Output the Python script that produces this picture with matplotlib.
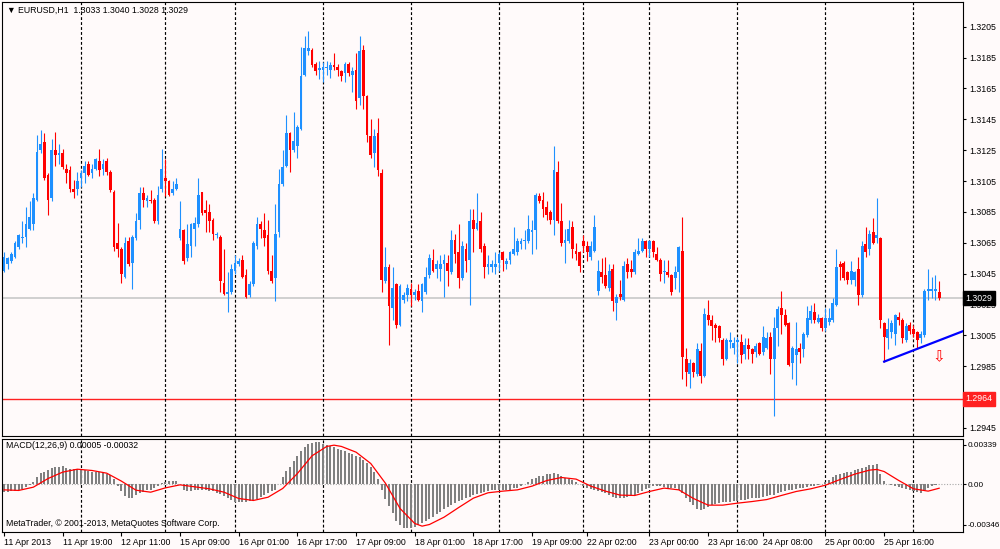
import matplotlib
matplotlib.use("Agg")
import matplotlib.pyplot as plt
import matplotlib.transforms as mtransforms
import numpy as np

plt.rcParams['font.family'] = ['Liberation Sans', 'DejaVu Sans']

# EURUSD H1, one bar per hour (bar index on the x axis)
opens = [
    1.3047, 1.3051, 1.3053, 1.3056, 1.3062, 1.3068, 1.3069, 1.3074, 1.3077, 1.3093, 1.3125, 1.3130, 1.3109, 1.3094, 1.3125, 1.3122,
    1.3123, 1.3113, 1.3112, 1.3100, 1.3100, 1.3107, 1.3110, 1.3116, 1.3110, 1.3113, 1.3118, 1.3113, 1.3118, 1.3111, 1.3098, 1.3065,
    1.3061, 1.3043, 1.3066, 1.3052, 1.3068, 1.3080, 1.3097, 1.3092, 1.3093, 1.3093, 1.3079, 1.3100, 1.3107, 1.3105, 1.3097, 1.3100,
    1.3068, 1.3073, 1.3055, 1.3063, 1.3074, 1.3077, 1.3098, 1.3086, 1.3085, 1.3080, 1.3070, 1.3069, 1.3039, 1.3032, 1.3033, 1.3047,
    1.3051, 1.3054, 1.3044, 1.3031, 1.3038, 1.3063, 1.3077, 1.3073, 1.3070, 1.3047, 1.3042, 1.3072, 1.3103, 1.3115, 1.3136, 1.3125,
    1.3128, 1.3139, 1.3174, 1.3189, 1.3190, 1.3181, 1.3177, 1.3177, 1.3178, 1.3177, 1.3180, 1.3179, 1.3176, 1.3175, 1.3181, 1.3174,
    1.3177, 1.3159, 1.3190, 1.3160, 1.3134, 1.3123, 1.3136, 1.3110, 1.3040, 1.3049, 1.3023, 1.3038, 1.3012, 1.3028, 1.3031, 1.3035,
    1.3031, 1.3034, 1.3027, 1.3033, 1.3044, 1.3054, 1.3048, 1.3048, 1.3051, 1.3052, 1.3046, 1.3067, 1.3059, 1.3042, 1.3061, 1.3054,
    1.3080, 1.3074, 1.3079, 1.3063, 1.3049, 1.3049, 1.3049, 1.3052, 1.3059, 1.3051, 1.3054, 1.3058, 1.3059, 1.3064, 1.3066, 1.3066,
    1.3072, 1.3073, 1.3095, 1.3093, 1.3088, 1.3085, 1.3080, 1.3111, 1.3079, 1.3065, 1.3066, 1.3075, 1.3060, 1.3059, 1.3066, 1.3063,
    1.3056, 1.3060, 1.3034, 1.3046, 1.3044, 1.3036, 1.3048, 1.3026, 1.3032, 1.3028, 1.3051, 1.3048, 1.3046, 1.3058, 1.3060, 1.3066,
    1.3061, 1.3066, 1.3058, 1.3054, 1.3046, 1.3046, 1.3044, 1.3042, 1.3046, 1.3060, 1.2990, 1.2980, 1.2987, 1.2980, 1.2995, 1.2979,
    1.3018, 1.3015, 1.3012, 1.3011, 1.3002, 1.2990, 1.3001, 1.2997, 1.3001, 1.3001, 1.2993, 1.2999, 1.2996, 1.2994, 1.3000, 1.2994,
    1.2997, 1.3004, 1.2990, 1.3010, 1.3023, 1.3018, 1.3013, 1.2987, 1.2992, 1.2997, 1.2996, 1.3005, 1.3015, 1.3020, 1.3014, 1.3016,
    1.3010, 1.3014, 1.3015, 1.3025, 1.3051, 1.3052, 1.3046, 1.3041, 1.3041, 1.3048, 1.3031, 1.3064, 1.3061, 1.3072, 1.3068, 1.3068,
    1.3013, 1.3003, 1.3007, 1.3006, 1.3017, 1.3015, 1.3002, 1.3012, 1.3009, 1.3007, 1.3003, 1.3005, 1.3034, 1.3034, 1.3034, 1.3033,
]
highs = [
    1.3059, 1.3056, 1.3059, 1.3066, 1.3071, 1.3079, 1.3088, 1.3092, 1.3097, 1.3135, 1.3138, 1.3136, 1.3110, 1.3132, 1.3137, 1.3129,
    1.3126, 1.3116, 1.3115, 1.3106, 1.3111, 1.3112, 1.3118, 1.3118, 1.3116, 1.3120, 1.3126, 1.3119, 1.3120, 1.3112, 1.3099, 1.3078,
    1.3062, 1.3069, 1.3069, 1.3070, 1.3084, 1.3101, 1.3101, 1.3096, 1.3099, 1.3094, 1.3102, 1.3126, 1.3119, 1.3106, 1.3105, 1.3107,
    1.3092, 1.3074, 1.3077, 1.3078, 1.3082, 1.3107, 1.3098, 1.3093, 1.3090, 1.3081, 1.3072, 1.3070, 1.3061, 1.3046, 1.3051, 1.3057,
    1.3055, 1.3057, 1.3048, 1.3040, 1.3066, 1.3082, 1.3079, 1.3084, 1.3080, 1.3057, 1.3090, 1.3113, 1.3125, 1.3148, 1.3137, 1.3150,
    1.3141, 1.3192, 1.3199, 1.3202, 1.3191, 1.3182, 1.3183, 1.3182, 1.3183, 1.3182, 1.3188, 1.3181, 1.3177, 1.3182, 1.3182, 1.3179,
    1.3188, 1.3199, 1.3193, 1.3161, 1.3145, 1.3139, 1.3146, 1.3113, 1.3062, 1.3051, 1.3049, 1.3039, 1.3038, 1.3033, 1.3038, 1.3039,
    1.3035, 1.3038, 1.3039, 1.3049, 1.3058, 1.3061, 1.3054, 1.3057, 1.3058, 1.3057, 1.3073, 1.3071, 1.3077, 1.3066, 1.3065, 1.3087,
    1.3087, 1.3097, 1.3085, 1.3065, 1.3057, 1.3054, 1.3059, 1.3059, 1.3060, 1.3055, 1.3060, 1.3075, 1.3068, 1.3068, 1.3073, 1.3083,
    1.3080, 1.3097, 1.3097, 1.3098, 1.3092, 1.3086, 1.3128, 1.3118, 1.3091, 1.3074, 1.3080, 1.3079, 1.3065, 1.3060, 1.3070, 1.3066,
    1.3066, 1.3083, 1.3054, 1.3055, 1.3056, 1.3051, 1.3051, 1.3032, 1.3041, 1.3053, 1.3055, 1.3054, 1.3061, 1.3068, 1.3068, 1.3067,
    1.3067, 1.3067, 1.3062, 1.3055, 1.3054, 1.3054, 1.3045, 1.3050, 1.3063, 1.3082, 1.2997, 1.2990, 1.2988, 1.3000, 1.3000, 1.3023,
    1.3028, 1.3018, 1.3013, 1.3012, 1.3003, 1.3003, 1.3007, 1.3004, 1.3004, 1.3006, 1.3003, 1.3003, 1.2997, 1.3000, 1.3001, 1.3011,
    1.3007, 1.3007, 1.3017, 1.3024, 1.3034, 1.3022, 1.3014, 1.2998, 1.3014, 1.3000, 1.3007, 1.3024, 1.3025, 1.3026, 1.3019, 1.3017,
    1.3023, 1.3023, 1.3029, 1.3061, 1.3053, 1.3053, 1.3047, 1.3053, 1.3047, 1.3056, 1.3066, 1.3075, 1.3073, 1.3081, 1.3094, 1.3069,
    1.3014, 1.3016, 1.3015, 1.3019, 1.3020, 1.3016, 1.3013, 1.3014, 1.3012, 1.3008, 1.3008, 1.3035, 1.3048, 1.3043, 1.3044, 1.3040,
]
lows = [
    1.3046, 1.3048, 1.3052, 1.3055, 1.3061, 1.3065, 1.3062, 1.3073, 1.3073, 1.3092, 1.3123, 1.3106, 1.3083, 1.3092, 1.3115, 1.3116,
    1.3113, 1.3104, 1.3098, 1.3094, 1.3096, 1.3101, 1.3104, 1.3108, 1.3107, 1.3112, 1.3108, 1.3109, 1.3109, 1.3098, 1.3060, 1.3056,
    1.3039, 1.3042, 1.3050, 1.3035, 1.3067, 1.3074, 1.3088, 1.3088, 1.3091, 1.3078, 1.3077, 1.3098, 1.3095, 1.3095, 1.3096, 1.3099,
    1.3067, 1.3051, 1.3053, 1.3056, 1.3063, 1.3075, 1.3083, 1.3072, 1.3072, 1.3067, 1.3068, 1.3033, 1.3031, 1.3020, 1.3032, 1.3045,
    1.3050, 1.3042, 1.3029, 1.3030, 1.3037, 1.3061, 1.3068, 1.3063, 1.3045, 1.3039, 1.3027, 1.3069, 1.3102, 1.3114, 1.3111, 1.3124,
    1.3120, 1.3138, 1.3173, 1.3187, 1.3179, 1.3174, 1.3171, 1.3169, 1.3174, 1.3172, 1.3177, 1.3173, 1.3170, 1.3169, 1.3173, 1.3163,
    1.3152, 1.3154, 1.3152, 1.3130, 1.3120, 1.3114, 1.3108, 1.3033, 1.3039, 1.2999, 1.3015, 1.3010, 1.3011, 1.3026, 1.3027, 1.3024,
    1.3028, 1.3027, 1.3020, 1.3032, 1.3042, 1.3046, 1.3042, 1.3040, 1.3030, 1.3037, 1.3045, 1.3052, 1.3036, 1.3041, 1.3046, 1.3025,
    1.3059, 1.3073, 1.3059, 1.3042, 1.3045, 1.3046, 1.3045, 1.3047, 1.3047, 1.3048, 1.3051, 1.3057, 1.3057, 1.3061, 1.3061, 1.3065,
    1.3058, 1.3061, 1.3091, 1.3082, 1.3080, 1.3077, 1.3070, 1.3078, 1.3063, 1.3052, 1.3065, 1.3055, 1.3054, 1.3046, 1.3059, 1.3053,
    1.3054, 1.3059, 1.3031, 1.3039, 1.3036, 1.3034, 1.3021, 1.3015, 1.3028, 1.3027, 1.3042, 1.3043, 1.3045, 1.3057, 1.3059, 1.3056,
    1.3056, 1.3056, 1.3053, 1.3040, 1.3039, 1.3043, 1.3031, 1.3035, 1.3033, 1.2977, 1.2972, 1.2971, 1.2978, 1.2979, 1.2974, 1.2978,
    1.3012, 1.3002, 1.3001, 1.3001, 1.2986, 1.2989, 1.2997, 1.2993, 1.2987, 1.2987, 1.2990, 1.2990, 1.2987, 1.2991, 1.2992, 1.2992,
    1.2996, 1.2980, 1.2953, 1.2998, 1.3006, 1.3011, 1.2985, 1.2977, 1.2973, 1.2987, 1.2991, 1.3004, 1.3013, 1.3013, 1.3013, 1.3008,
    1.3008, 1.3012, 1.3014, 1.3024, 1.3041, 1.3041, 1.3038, 1.3038, 1.3037, 1.3025, 1.3030, 1.3056, 1.3057, 1.3064, 1.3065, 1.3010,
    1.2988, 1.2996, 1.3003, 1.2999, 1.3012, 1.3000, 1.3001, 1.3006, 1.3004, 1.2997, 1.3000, 1.3004, 1.3028, 1.3029, 1.3028, 1.3028,
]
closes = [
    1.3056, 1.3055, 1.3058, 1.3065, 1.3070, 1.3069, 1.3077, 1.3082, 1.3094, 1.3124, 1.3129, 1.3107, 1.3093, 1.3125, 1.3122, 1.3123,
    1.3114, 1.3110, 1.3100, 1.3098, 1.3105, 1.3110, 1.3115, 1.3109, 1.3113, 1.3119, 1.3112, 1.3116, 1.3111, 1.3099, 1.3062, 1.3061,
    1.3045, 1.3065, 1.3051, 1.3069, 1.3079, 1.3097, 1.3093, 1.3094, 1.3092, 1.3079, 1.3096, 1.3113, 1.3105, 1.3096, 1.3100, 1.3103,
    1.3074, 1.3053, 1.3064, 1.3077, 1.3078, 1.3096, 1.3084, 1.3084, 1.3079, 1.3071, 1.3071, 1.3040, 1.3032, 1.3033, 1.3048, 1.3052,
    1.3053, 1.3043, 1.3030, 1.3038, 1.3065, 1.3077, 1.3074, 1.3068, 1.3047, 1.3040, 1.3071, 1.3103, 1.3114, 1.3136, 1.3125, 1.3131,
    1.3140, 1.3173, 1.3191, 1.3191, 1.3180, 1.3176, 1.3178, 1.3179, 1.3179, 1.3180, 1.3179, 1.3177, 1.3173, 1.3181, 1.3175, 1.3176,
    1.3157, 1.3189, 1.3160, 1.3135, 1.3122, 1.3134, 1.3112, 1.3041, 1.3049, 1.3024, 1.3036, 1.3012, 1.3037, 1.3031, 1.3036, 1.3031,
    1.3033, 1.3028, 1.3038, 1.3043, 1.3055, 1.3047, 1.3051, 1.3051, 1.3054, 1.3047, 1.3067, 1.3058, 1.3042, 1.3063, 1.3053, 1.3079,
    1.3074, 1.3078, 1.3061, 1.3049, 1.3051, 1.3051, 1.3051, 1.3058, 1.3054, 1.3053, 1.3059, 1.3061, 1.3066, 1.3066, 1.3067, 1.3074,
    1.3073, 1.3096, 1.3092, 1.3087, 1.3083, 1.3080, 1.3112, 1.3079, 1.3065, 1.3067, 1.3074, 1.3061, 1.3058, 1.3050, 1.3063, 1.3059,
    1.3063, 1.3075, 1.3047, 1.3043, 1.3037, 1.3047, 1.3027, 1.3030, 1.3030, 1.3050, 1.3046, 1.3046, 1.3059, 1.3060, 1.3066, 1.3061,
    1.3066, 1.3059, 1.3054, 1.3045, 1.3047, 1.3044, 1.3033, 1.3046, 1.3062, 1.2991, 1.2981, 1.2987, 1.2981, 1.2996, 1.2979, 1.3019,
    1.3015, 1.3011, 1.3010, 1.3003, 1.2990, 1.3002, 1.3002, 1.3000, 1.3002, 1.2992, 1.2999, 1.2996, 1.2993, 1.2998, 1.2993, 1.3004,
    1.3003, 1.2990, 1.3010, 1.3022, 1.3018, 1.3012, 1.2986, 1.2997, 1.2996, 1.2994, 1.3006, 1.3016, 1.3021, 1.3015, 1.3016, 1.3010,
    1.3016, 1.3016, 1.3026, 1.3049, 1.3049, 1.3042, 1.3041, 1.3047, 1.3046, 1.3031, 1.3063, 1.3059, 1.3071, 1.3065, 1.3070, 1.3015,
    1.3004, 1.3009, 1.3013, 1.3018, 1.3015, 1.3003, 1.3011, 1.3008, 1.3006, 1.3002, 1.3006, 1.3034, 1.3035, 1.3035, 1.3035, 1.3029,
]

# MACD(12,26,9) main histogram, in units of 0.0001
macd_main = [
    -6.3, -6.3, -6.0, -5.7, -5.1, -4.0, -2.3, -0.3, 2.3, 6.3, 10.0, 11.1, 12.0, 14.0, 14.9, 15.4,
    15.7, 14.3, 13.4, 12.9, 12.9, 12.9, 12.3, 11.4, 11.1, 10.9, 10.6, 10.0, 9.1, 8.0, 4.3, -0.9,
    -5.7, -10.0, -12.0, -11.4, -8.6, -7.4, -6.6, -5.1, -4.3, -3.1, -1.4, 1.1, 2.0, 2.6, 3.1, 3.4,
    0.0, -4.3, -5.7, -5.7, -5.1, -4.3, -4.3, -4.9, -5.4, -6.0, -6.9, -8.0, -10.0, -12.0, -13.7, -14.6,
    -15.1, -15.1, -14.6, -14.0, -13.1, -12.3, -10.9, -9.4, -7.7, -5.7, -4.3, 0.6, 6.3, 11.4, 15.4, 20.0,
    24.6, 28.6, 32.0, 34.3, 35.7, 36.0, 36.0, 35.1, 34.0, 32.9, 31.7, 30.6, 29.4, 28.3, 27.1, 26.0,
    24.6, 23.4, 21.1, 18.6, 14.9, 10.9, 4.3, -4.3, -12.3, -18.6, -24.6, -30.9, -34.9, -36.9, -37.7, -37.4,
    -36.3, -34.9, -33.4, -31.7, -29.7, -27.7, -25.4, -23.4, -21.1, -19.4, -17.7, -16.0, -14.3, -12.9, -11.4, -10.3,
    -9.1, -8.0, -7.1, -6.3, -5.7, -5.1, -5.1, -5.1, -4.9, -4.6, -4.3, -3.4, -2.9, -1.7, 0.0, 2.3,
    4.3, 5.7, 6.9, 7.7, 8.6, 9.1, 10.0, 8.6, 7.1, 5.7, 4.9, 3.7, 2.3, 0.6, -1.4, -2.9,
    -4.0, -4.9, -5.7, -6.6, -7.7, -8.9, -10.3, -11.4, -12.0, -11.7, -10.9, -9.7, -8.6, -6.9, -5.4, -4.0,
    -2.6, -1.4, -1.4, -1.7, -2.3, -2.6, -2.9, -3.4, -4.3, -7.7, -11.4, -14.9, -18.0, -20.6, -22.0, -20.6,
    -18.9, -17.7, -16.6, -16.0, -15.4, -14.9, -14.6, -14.3, -14.0, -13.7, -13.1, -12.6, -12.0, -11.7, -11.4, -10.9,
    -10.0, -9.1, -8.6, -7.7, -6.6, -5.7, -5.1, -4.6, -4.0, -3.1, -2.6, -2.3, -1.7, -1.1, -0.6, 0.0,
    2.0, 3.7, 6.3, 8.0, 9.1, 9.7, 10.3, 11.1, 12.0, 12.9, 14.0, 15.1, 16.3, 17.1, 17.7, 8.6,
    3.4, 0.6, -0.6, -1.4, -2.0, -2.9, -3.7, -4.6, -5.4, -6.3, -7.1, -4.3, -2.6, -1.4, -0.3, 0.5,
]

signal_bars = [0, 4, 8, 12, 16, 20, 24, 28, 32, 36, 40, 44, 48, 52, 56, 60, 64, 68, 72, 76,
               80, 84, 88, 90, 92, 96, 100, 104, 108, 112, 114, 116, 120, 124, 128, 132, 136,
               140, 144, 148, 152, 156, 160, 164, 168, 172, 176, 180, 184, 188, 192, 196, 200,
               204, 208, 212, 216, 220, 224, 228, 232, 236, 238, 240, 244, 248, 252, 255]
signal_vals = [-4.6, -5.1, -2.3, 5.1, 10.6, 13.1, 12.0, 9.7, 2.9, -4.9, -6.6, -2.9, -0.3, -2.0,
               -3.7, -6.6, -12.0, -13.7, -10.9, -3.4, 9.4, 24.6, 32.6, 33.7, 32.6, 27.7, 18.0,
               1.1, -20.6, -33.4, -35.7, -34.3, -28.0, -19.7, -11.7, -7.1, -5.7, -4.6, -1.4,
               3.4, 6.0, 4.6, -1.4, -5.7, -9.1, -9.4, -6.0, -3.1, -4.6, -12.0, -17.7, -17.7,
               -16.0, -14.6, -12.9, -9.4, -6.0, -3.7, -0.6, 4.3, 8.9, 12.3, 12.9, 11.1, 3.4,
               -3.7, -5.7, -3.2]

separator_bars = [21, 44, 63, 87, 111, 135, 158, 176, 200, 224, 248]
time_tick_bars = [0, 16, 32, 48, 64, 80, 96, 112, 128, 144, 159, 176, 192, 207, 224, 240]
time_tick_labels = ['11 Apr 2013', '11 Apr 19:00', '12 Apr 11:00', '15 Apr 09:00',
                    '16 Apr 01:00', '16 Apr 17:00', '17 Apr 09:00', '18 Apr 01:00',
                    '18 Apr 17:00', '19 Apr 09:00', '22 Apr 02:00', '23 Apr 00:00',
                    '23 Apr 16:00', '24 Apr 08:00', '25 Apr 00:00', '25 Apr 16:00']
price_ticks = [1.3205, 1.3185, 1.3165, 1.3145, 1.3125, 1.3105, 1.3085, 1.3065,
               1.3045, 1.3025, 1.3005, 1.2985, 1.2965, 1.2945]
# 1.2965 sits under the red level box in the original, so its text is left out
price_tick_labels = ['1.3205', '1.3185', '1.3165', '1.3145', '1.3125', '1.3105', '1.3085',
                     '1.3065', '1.3045', '1.3025', '1.3005', '1.2985', '', '1.2945']
macd_ticks = [0.00339, 0.0, -0.00346]
macd_tick_labels = ['0.00339', '0.00', '-0.00346']

bid = 1.3029
level_price = 1.2964
trend_bars = [240, 262]
trend_prices = [1.2988, 1.30082]
arrow_bar, arrow_price = 255, 1.29913

BG = '#FFFAFA'
BULL = '#1E90FF'
BEAR = '#FF0000'
FS = 6.3

fig = plt.figure(figsize=(10, 5.49), dpi=100, facecolor=BG)
ax = fig.add_axes([0.002, 0.2058, 0.961, 0.7905], facecolor=BG)
axm = fig.add_axes([0.002, 0.0310, 0.961, 0.1694], facecolor=BG)

o = np.array(opens)
h = np.array(highs)
l = np.array(lows)
c = np.array(closes)
x = np.arange(len(c))
cols = np.where(c >= o, BULL, BEAR)

ax.axhline(bid, color='#C4C4C4', lw=1.1, zorder=1)
ax.axhline(level_price, color='#FF2020', lw=1.0, zorder=1)
for b in separator_bars:
    ax.axvline(b, color='black', lw=0.85, ls=(0, (2.4, 1.8)), zorder=1.5)
    axm.axvline(b, color='black', lw=0.85, ls=(0, (2.4, 1.8)), zorder=1.5)

ax.vlines(x, l, h, colors=cols, lw=0.8, zorder=2)
body_low = np.minimum(o, c)
body_h = np.maximum(np.abs(c - o), 0.00007)
ax.bar(x, body_h, bottom=body_low, width=0.76, color=cols, linewidth=0, zorder=2.2)

ax.plot(trend_bars, trend_prices, color='#0000FF', lw=1.6, zorder=3)
ax.text(arrow_bar, arrow_price, '\u21e9', color='red', fontsize=11, ha='center',
        va='center', family='DejaVu Sans', zorder=3)

ax.set_xlim(-0.55, 261.5)
ax.set_ylim(1.29398, 1.32210)
ax.yaxis.tick_right()
ax.set_yticks(price_ticks)
ax.set_yticklabels(price_tick_labels)
ax.tick_params(axis='y', direction='out', length=2.5, width=0.8, labelsize=FS, pad=2)
ax.tick_params(axis='x', bottom=False, labelbottom=False)

yt = mtransforms.blended_transform_factory(ax.transAxes, ax.transData)
ax.text(1.0025, bid, '%.4f' % bid, transform=yt, ha='left', va='center', color='white',
        fontsize=FS, clip_on=False, zorder=5,
        bbox=dict(boxstyle='square,pad=0.3', fc='black', ec='black'))
ax.text(1.0025, level_price, '%.4f' % level_price, transform=yt, ha='left', va='center',
        color='white', fontsize=FS, clip_on=False, zorder=5,
        bbox=dict(boxstyle='square,pad=0.3', fc='#FF2020', ec='#FF2020'))

ax.text(0.005, 0.992, '\u25bc EURUSD,H1  %.4f %.4f %.4f %.4f' % (o[-1], h[-1], l[-1], c[-1]),
        transform=ax.transAxes, ha='left', va='top', fontsize=FS, color='black')

# MACD panel
mm = np.array(macd_main) * 1e-4
axm.axhline(0, color='#A8A8A8', lw=0.8, ls=(0, (1, 1.5)), zorder=1)
axm.bar(x, mm, width=0.55, color='#808080', linewidth=0, zorder=2)
axm.plot(signal_bars, np.array(signal_vals) * 1e-4, color='red', lw=0.9, zorder=3)
axm.set_xlim(-0.55, 261.5)
axm.set_ylim(-0.00407, 0.00390)
axm.yaxis.tick_right()
axm.set_yticks(macd_ticks)
axm.set_yticklabels(macd_tick_labels)
axm.tick_params(axis='y', direction='out', length=2.0, width=0.8, labelsize=5.9, pad=1.2)
axm.set_xticks(time_tick_bars)
axm.set_xticklabels(time_tick_labels)
axm.tick_params(axis='x', direction='out', length=3, width=0.8, labelsize=FS, pad=1.5)
for lab in axm.get_xticklabels():
    lab.set_ha('left')

axm.text(0.004, 0.93, 'MACD(12,26,9) 0.00005 -0.00032', transform=axm.transAxes,
         ha='left', va='center', fontsize=FS, color='black')
axm.text(0.004, 0.09, 'MetaTrader, \u00a9 2001-2013, MetaQuotes Software Corp.',
         transform=axm.transAxes, ha='left', va='center', fontsize=FS, color='black')

for a in (ax, axm):
    for s in a.spines.values():
        s.set_color('black')
        s.set_linewidth(0.8)

fig.savefig('out.png', dpi=100, facecolor=BG)
